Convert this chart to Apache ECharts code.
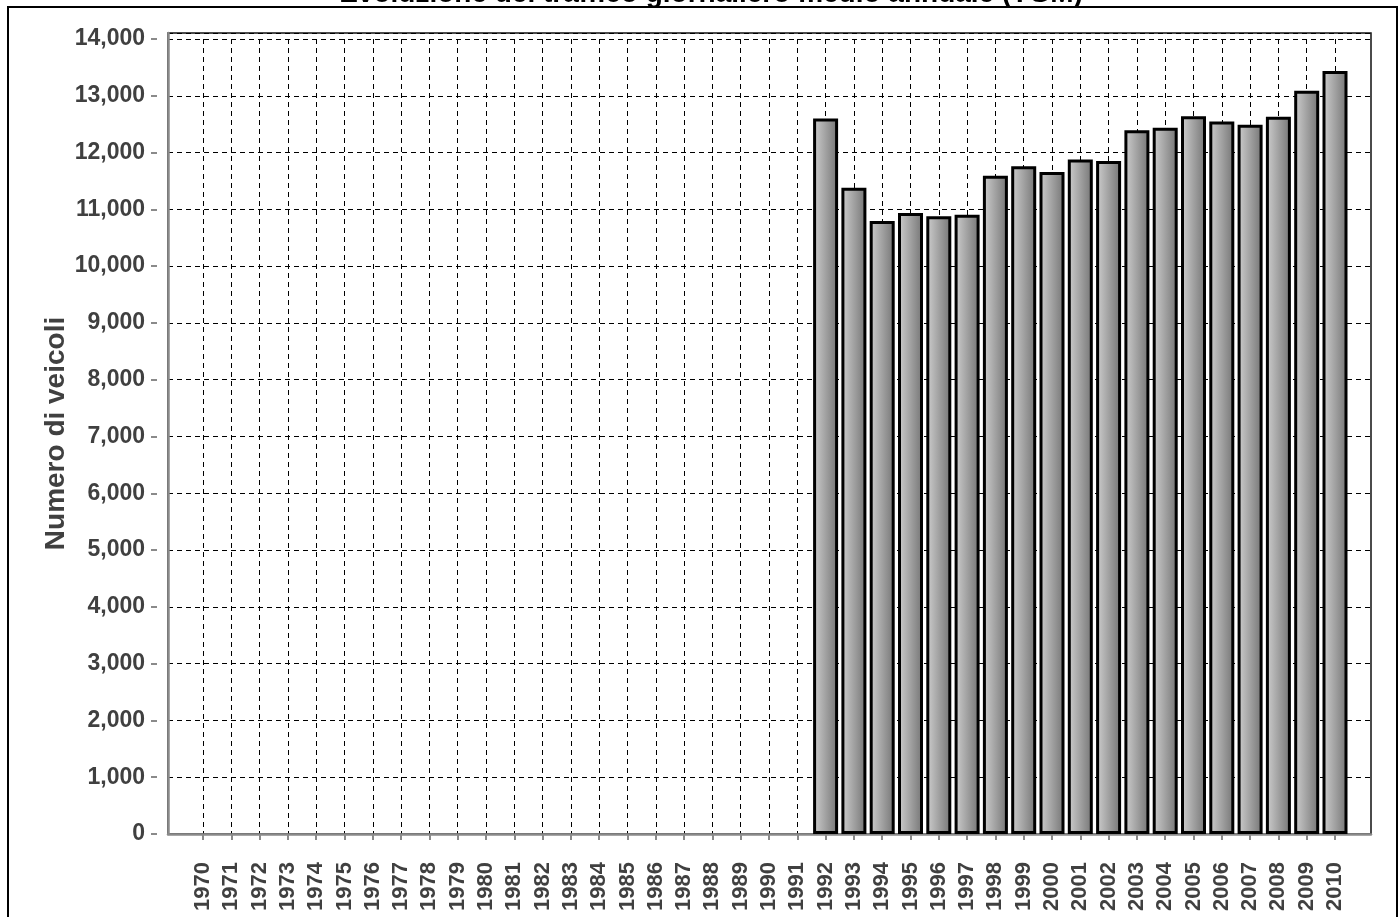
<!DOCTYPE html>
<html>
<head>
<meta charset="utf-8">
<style>
  html, body { margin: 0; padding: 0; background: #fff; }
  #chart { width: 1398px; height: 917px; }
</style>
<script src="https://cdn.jsdelivr.net/npm/echarts@6/dist/echarts.min.js"></script>
</head>
<body>
<div id="chart"></div>
<script>
// Years on the category axis
const years = ['1970','1971','1972','1973','1974','1975','1976','1977','1978','1979',
  '1980','1981','1982','1983','1984','1985','1986','1987','1988','1989',
  '1990','1991','1992','1993','1994','1995','1996','1997','1998','1999',
  '2000','2001','2002','2003','2004','2005','2006','2007','2008','2009','2010'];

// Annual average daily traffic (vehicles); no survey before 1992
const tgm = [null,null,null,null,null,null,null,null,null,null,
  null,null,null,null,null,null,null,null,null,null,
  null,null,12600,11380,10795,10935,10880,10905,11590,11760,
  11660,11880,11850,12395,12435,12640,12545,12490,12630,13090,13435];

// Value axis ticks
const yMin = 0;
const yMax = 14000;
const yStep = 1000;

const titleText = 'Evoluzione del traffico giornaliero medio annuale (TGM)';
const yName = 'Numero di veicoli';

const FONT = '"Liberation Sans", Arial, sans-serif';
const AXIS_GRAY = '#8a8a8a';
const LABEL_GRAY = '#404040';

// frame area extends a little above the top tick (14,000 sits 6px below the border)
const frameTopValue = yMax * 801 / 795;

const fmt = v => String(v).replace(/\B(?=(\d{3})+(?!\d))/g, ',');

const chart = echarts.init(document.getElementById('chart'), null, { renderer: 'canvas' });

chart.setOption({
  animation: false,
  backgroundColor: '#fff',
  graphic: [
    {
      type: 'rect',
      shape: { x: 8, y: 7, width: 1389, height: 930 },
      style: { fill: 'none', stroke: '#000', lineWidth: 2 },
      z: 0
    },
    {
      type: 'text',
      x: 711, y: -6,
      style: {
        text: titleText,
        font: 'bold 28px ' + FONT,
        fill: '#000',
        textAlign: 'center',
        textVerticalAlign: 'middle'
      },
      z: 10
    }
  ],
  grid: [
    // data grid: category points span from 1970 to 2010
    { left: 203, top: 39, width: 1132, height: 795, show: false },
    // plot frame with horizontal grid lines
    { left: 168, top: 33, width: 1203, height: 801, show: true,
      borderColor: '#111', borderWidth: 1.5, backgroundColor: 'transparent' }
  ],
  xAxis: [
    {
      type: 'category',
      gridIndex: 0,
      data: years,
      boundaryGap: false,
      offset: 11,
      axisLine: { show: false },
      axisTick: { show: true, alignWithLabel: true, interval: 0, length: 6,
        lineStyle: { color: AXIS_GRAY, width: 2 } },
      axisLabel: { interval: 0, rotate: 90, margin: 17, color: LABEL_GRAY,
        fontFamily: FONT, fontWeight: 'bold', fontSize: 22 },
      splitLine: { show: true, interval: 0,
        lineStyle: { color: '#000', width: 1, type: [5, 4] } }
    },
    {
      type: 'value',
      gridIndex: 1,
      min: 0, max: 1,
      offset: 11,
      axisLine: { show: true, lineStyle: { color: AXIS_GRAY, width: 2.5 } },
      axisTick: { show: false },
      axisLabel: { show: false },
      splitLine: { show: false }
    }
  ],
  yAxis: [
    {
      type: 'value',
      gridIndex: 0,
      min: yMin, max: yMax, interval: yStep,
      offset: 46,
      axisLine: { show: false },
      axisTick: { show: true, length: 6, lineStyle: { color: AXIS_GRAY, width: 2 } },
      axisLabel: { margin: 12, color: LABEL_GRAY, fontFamily: FONT,
        fontWeight: 'bold', fontSize: 23, formatter: v => fmt(v) },
      splitLine: { show: false }
    },
    {
      type: 'value',
      gridIndex: 1,
      min: yMin, max: frameTopValue, interval: yStep,
      offset: 11,
      name: yName,
      nameLocation: 'middle',
      nameGap: 87,
      nameTextStyle: { color: LABEL_GRAY, fontFamily: FONT, fontWeight: 'bold', fontSize: 28 },
      axisLine: { show: true, lineStyle: { color: AXIS_GRAY, width: 2.5 } },
      axisTick: { show: false },
      axisLabel: { show: false },
      splitLine: { show: true, lineStyle: { color: '#000', width: 1, type: [5, 4] } }
    }
  ],
  series: [
    {
      type: 'bar',
      xAxisIndex: 0,
      yAxisIndex: 0,
      data: tgm,
      barWidth: 25,
      itemStyle: {
        color: new echarts.graphic.LinearGradient(0, 0, 1, 0, [
          { offset: 0, color: '#cfcfcf' },
          { offset: 1, color: '#747474' }
        ]),
        borderColor: '#000',
        borderWidth: 3
      },
      z: 3
    }
  ]
});
</script>
</body>
</html>
